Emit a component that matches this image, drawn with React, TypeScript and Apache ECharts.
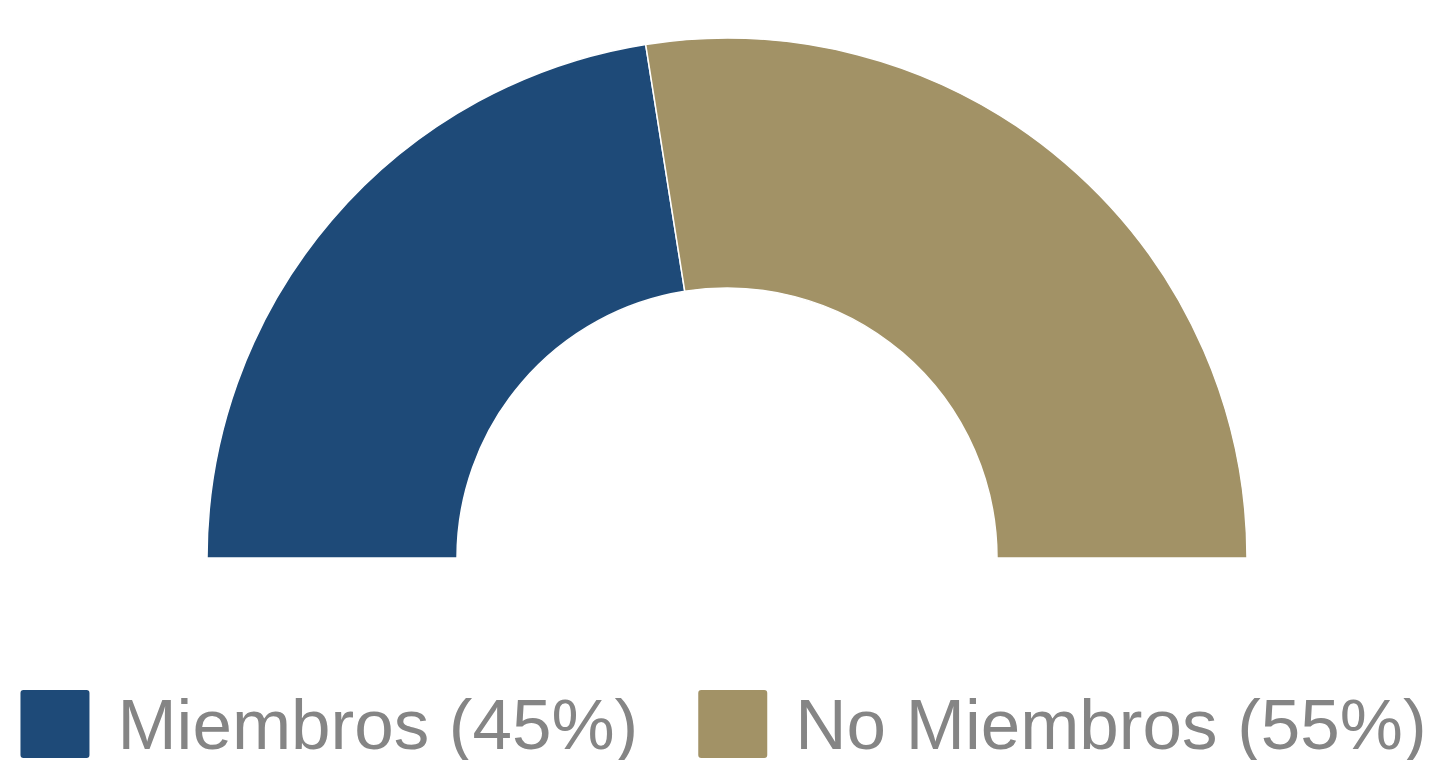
import React, { useEffect, useRef } from "react";
import * as echarts from "echarts";

const categories = ["Miembros", "No Miembros"];
const values = [45, 55];
const colors = ["#1e4a78", "#a29266"];

const ICON =
  "path://M4,0H67Q71,0 71,4V66Q71,70 67,70H4Q0,70 0,66V4Q0,0 4,0Z";

export default function App() {
  const ref = useRef<HTMLDivElement>(null);
  useEffect(() => {
    if (!ref.current) return;
    const chart = echarts.init(ref.current, null, { renderer: "svg" });
    const data = categories.map((c, i) => ({
      name: `${c} (${values[i]}%)`,
      value: values[i],
      itemStyle: { color: colors[i] },
    }));
    chart.setOption({
      animation: false,
      legend: {
        left: "center",
        top: 683,
        itemWidth: 71,
        itemHeight: 70,
        itemGap: 58,
        icon: ICON,
        textStyle: {
          fontFamily: "Liberation Sans, Arial, sans-serif",
          fontSize: 71,
          color: "#858585",
          padding: [0, 0, 0, 22],
        },
        data: data.map((d) => d.name),
      },
      series: [
        {
          type: "pie",
          center: [727, 558],
          radius: [270, 520],
          startAngle: 180,
          endAngle: 0,
          label: { show: false },
          labelLine: { show: false },
          emphasis: { disabled: true },
          itemStyle: { borderColor: "#ffffff", borderWidth: 1.5 },
          data,
        },
      ],
    });
    return () => chart.dispose();
  }, []);
  return (
    <div
      ref={ref}
      style={{ position: "absolute", left: 0, top: 0, width: 1445, height: 760 }}
    />
  );
}
